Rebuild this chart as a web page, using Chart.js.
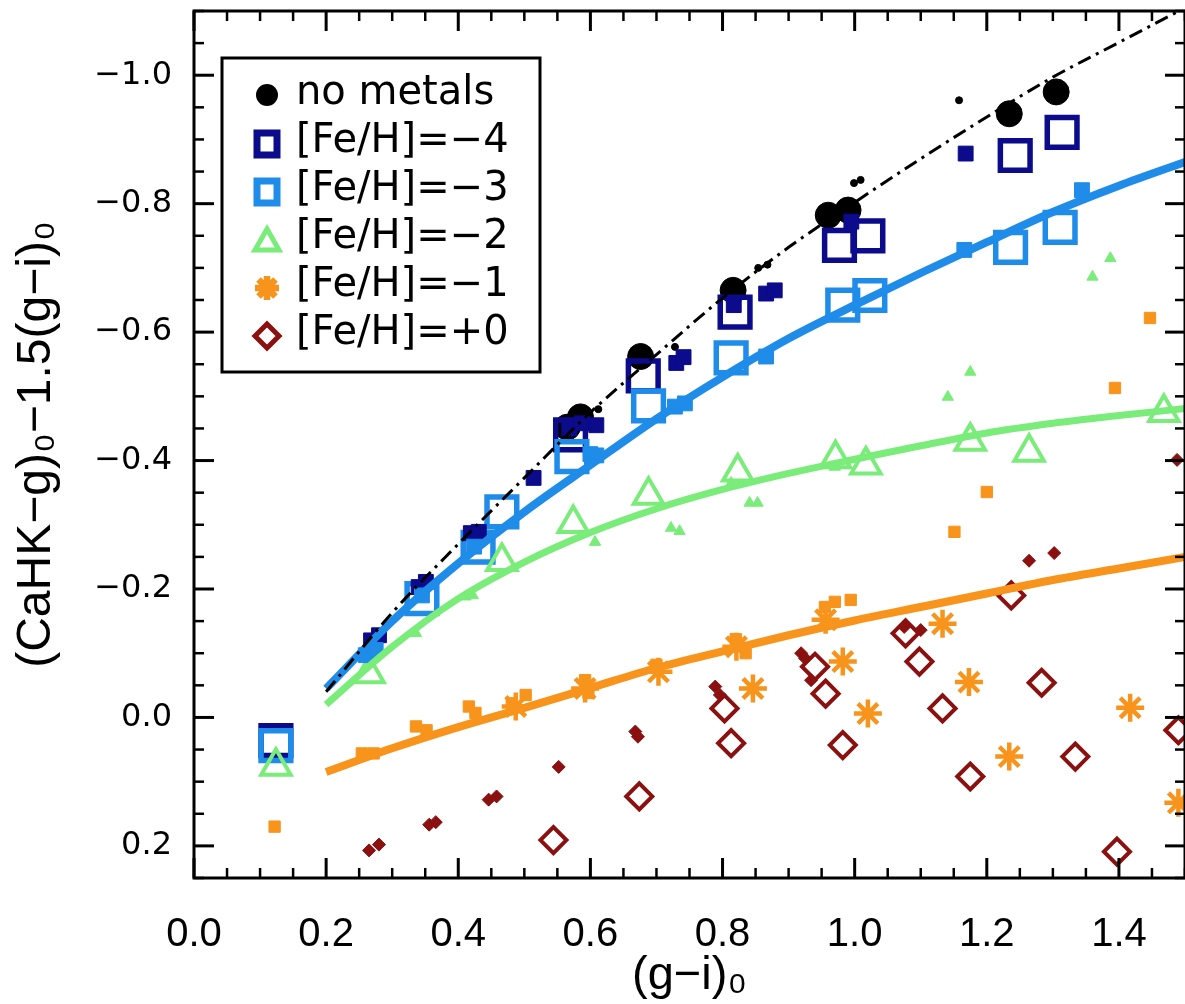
<!DOCTYPE html>
<html>
<head>
<meta charset="utf-8">
<script src="https://cdn.jsdelivr.net/npm/chart.js@4.4.1/dist/chart.umd.min.js"></script>
<style>
    html, body { margin: 0; padding: 0; background: #fff; overflow: hidden; }
    #chart { display: block; position: absolute; left: 0; top: 0; }
</style>
</head>
<body>
<canvas id="chart" width="1185" height="1004"></canvas>
<script>
(function () {
    'use strict';

    var seriesLabels = ['no metals', '[Fe/H]=\u22124', '[Fe/H]=\u22123', '[Fe/H]=\u22122', '[Fe/H]=\u22121', '[Fe/H]=+0'];
    var xTickValues = [0.0, 0.2, 0.4, 0.6, 0.8, 1.0, 1.2, 1.4];
    var yTickValues = [-1.0, -0.8, -0.6, -0.4, -0.2, 0.0, 0.2];

    // measured points, [ (g-i)0 , (CaHK-g)0 - 1.5(g-i)0 ]
    var noMetalsBig = [[0.565, -0.452], [0.585, -0.468], [0.676, -0.562], [0.816, -0.665], [0.960, -0.782], [0.990, -0.790], [1.234, -0.940], [1.305, -0.974]];
    var noMetalsSmall = [[0.612, -0.480], [0.728, -0.577], [0.854, -0.700], [0.868, -0.705], [0.999, -0.832], [1.009, -0.837], [1.158, -0.961]];

    var feh4Big = [[0.124, 0.036], [0.570, -0.440], [0.680, -0.532], [0.819, -0.631], [0.977, -0.735], [1.020, -0.750], [1.243, -0.875], [1.314, -0.911]];
    var feh4Small = [[0.268, -0.120], [0.280, -0.128], [0.340, -0.203], [0.351, -0.211], [0.419, -0.287], [0.431, -0.289], [0.514, -0.373], [0.568, -0.450], [0.587, -0.458], [0.609, -0.455], [0.730, -0.552], [0.741, -0.561], [0.817, -0.642], [0.866, -0.660], [0.879, -0.665], [0.995, -0.772], [1.168, -0.878]];

    var feh3Big = [[0.124, 0.044], [0.345, -0.185], [0.430, -0.265], [0.466, -0.320], [0.572, -0.406], [0.688, -0.485], [0.813, -0.560], [0.982, -0.642], [1.023, -0.657], [1.236, -0.732], [1.311, -0.763]];
    var feh3Small = [[0.260, -0.097], [0.275, -0.105], [0.345, -0.190], [0.424, -0.266], [0.600, -0.410], [0.609, -0.408], [0.728, -0.484], [0.743, -0.489], [0.866, -0.562], [1.166, -0.728], [1.344, -0.821]];

    var feh2Big = [[0.124, 0.076], [0.265, -0.068], [0.466, -0.243], [0.574, -0.302], [0.688, -0.346], [0.823, -0.382], [0.971, -0.403], [1.017, -0.393], [1.175, -0.430], [1.264, -0.413], [1.468, -0.475]];
    var feh2Small = [[0.336, -0.131], [0.411, -0.188], [0.422, -0.190], [0.607, -0.273], [0.722, -0.295], [0.735, -0.290], [0.813, -0.365], [0.841, -0.334], [0.853, -0.334], [0.970, -0.390], [1.141, -0.499], [1.175, -0.538], [1.360, -0.686], [1.387, -0.715]];

    var feh1Big = [[0.487, -0.017], [0.592, -0.045], [0.703, -0.071], [0.821, -0.110], [0.846, -0.045], [0.956, -0.152], [0.982, -0.087], [1.020, -0.006], [1.133, -0.146], [1.173, -0.055], [1.234, 0.061], [1.417, -0.015], [1.490, 0.133]];
    var feh1Small = [[0.122, 0.170], [0.254, 0.056], [0.272, 0.056], [0.336, 0.014], [0.352, 0.020], [0.416, -0.017], [0.426, -0.007], [0.481, -0.022], [0.502, -0.035], [0.592, -0.058], [0.597, -0.038], [0.700, -0.082], [0.820, -0.122], [0.835, -0.100], [0.955, -0.172], [0.970, -0.180], [0.994, -0.183], [1.151, -0.289], [1.200, -0.351], [1.394, -0.513], [1.447, -0.622]];

    var feh0Big = [[0.544, 0.191], [0.674, 0.123], [0.803, -0.014], [0.813, 0.040], [0.940, -0.079], [0.956, -0.037], [0.982, 0.043], [1.077, -0.131], [1.098, -0.087], [1.133, -0.014], [1.175, 0.092], [1.237, -0.190], [1.283, -0.054], [1.334, 0.061], [1.397, 0.209], [1.490, 0.020]];
    var feh0Small = [[0.265, 0.207], [0.280, 0.198], [0.356, 0.167], [0.366, 0.163], [0.446, 0.128], [0.458, 0.123], [0.552, 0.077], [0.668, 0.022], [0.672, 0.030], [0.789, -0.048], [0.796, -0.035], [0.919, -0.100], [0.925, -0.092], [0.934, -0.058], [1.075, -0.141], [1.100, -0.136], [1.264, -0.244], [1.302, -0.256], [1.488, -0.401]];

    // fitted relations, read at these colours
    var fitX = [0.2, 0.3, 0.4, 0.5, 0.6, 0.7, 0.8, 0.9, 1.0, 1.1, 1.2, 1.3, 1.4, 1.5];
    var fitNoMetals = [-0.040, -0.163, -0.270, -0.373, -0.475, -0.565, -0.653, -0.732, -0.802, -0.870, -0.935, -0.997, -1.051, -1.105];
    var fitFeh3 = [-0.045, -0.150, -0.240, -0.320, -0.393, -0.465, -0.530, -0.590, -0.642, -0.692, -0.740, -0.787, -0.828, -0.865];
    var fitFeh2 = [-0.020, -0.110, -0.185, -0.242, -0.288, -0.325, -0.355, -0.380, -0.402, -0.423, -0.443, -0.458, -0.470, -0.481];
    var fitFeh1 = [0.085, 0.048, 0.015, -0.015, -0.046, -0.077, -0.103, -0.128, -0.151, -0.172, -0.193, -0.214, -0.232, -0.250];

    var colors = ['#000000', '#0b0b8c', '#1e8ce8', '#7aec7a', '#f8941c', '#8b1010'];

    function toPoints(list) {
        return list.map(function (p) { return { x: p[0], y: p[1] }; });
    }

    function fitPoints(ys) {
        return fitX.map(function (x, i) { return { x: x, y: ys[i] }; });
    }

    function markerSet(label, list, color, style, radius, open, width, order) {
        return {
            label: label,
            data: toPoints(list),
            pointStyle: style,
            pointRadius: radius,
            pointBorderWidth: open ? width : 1,
            borderColor: color,
            backgroundColor: open ? 'rgba(0,0,0,0)' : color,
            showLine: false,
            order: order,
        };
    }

    function fitSet(label, ys, color, width, dash) {
        return {
            label: label,
            data: fitPoints(ys),
            showLine: true,
            pointRadius: 0,
            borderColor: color,
            borderWidth: width,
            borderDash: dash || [],
            borderCapStyle: 'butt',
            cubicInterpolationMode: 'monotone',
            fill: false,
            order: 0,
        };
    }

    var datasets = [
        markerSet(seriesLabels[0], noMetalsBig, colors[0], 'circle', 13, false, 0, 7),
        markerSet(seriesLabels[0], noMetalsSmall, colors[0], 'circle', 3.5, false, 0, 6),
        markerSet(seriesLabels[1], feh4Big, colors[1], 'rect', 21, true, 5.5, 6),
        markerSet(seriesLabels[1], feh4Small, colors[1], 'rect', 10.5, false, 0, 5),
        markerSet(seriesLabels[2], feh3Big, colors[2], 'rect', 21, true, 5.5, 5),
        markerSet(seriesLabels[2], feh3Small, colors[2], 'rect', 10.5, false, 0, 4),
        markerSet(seriesLabels[3], feh2Big, colors[3], 'triangle', 17, true, 4, 4),
        markerSet(seriesLabels[3], feh2Small, colors[3], 'triangle', 6.5, false, 0, 3),
        markerSet(seriesLabels[4], feh1Big, colors[4], 'star', 14, true, 4.5, 3),
        markerSet(seriesLabels[4], feh1Small, colors[4], 'rect', 8, false, 0, 2),
        markerSet(seriesLabels[5], feh0Big, colors[5], 'rectRot', 13, true, 4, 2),
        markerSet(seriesLabels[5], feh0Small, colors[5], 'rectRot', 6.5, false, 0, 1),
        fitSet('fit no metals', fitNoMetals, colors[0], 3, [14, 6, 3, 6]),
        fitSet('fit [Fe/H]=\u22123', fitFeh3, colors[2], 8),
        fitSet('fit [Fe/H]=\u22122', fitFeh2, colors[3], 7),
        fitSet('fit [Fe/H]=\u22121', fitFeh1, colors[4], 8),
    ];

    // IDL-like frame: box with inward major and minor ticks on all four sides
    var frameTicks = {
        id: 'frameTicks',
        afterDatasetsDraw: function (chart) {
            var ctx = chart.ctx;
            var a = chart.chartArea;
            var xs = chart.scales.x;
            var ys = chart.scales.y;
            ctx.save();
            ctx.strokeStyle = '#000';
            ctx.lineCap = 'butt';

            function seg(x1, y1, x2, y2) {
                ctx.beginPath();
                ctx.moveTo(x1, y1);
                ctx.lineTo(x2, y2);
                ctx.stroke();
            }

            var i, v, px, major, len;
            for (i = 0; i <= 30; i++) {
                v = i * 0.05;
                major = i % 4 === 0;
                len = major ? 20 : 10;
                ctx.lineWidth = major ? 3 : 2.5;
                px = xs.getPixelForValue(v);
                seg(px, a.bottom, px, a.bottom - len);
                seg(px, a.top, px, a.top + len);
            }
            for (i = 0; i <= 27; i++) {
                v = -1.1 + i * 0.05;
                major = (i - 2) % 4 === 0;
                len = major ? 20 : 10;
                ctx.lineWidth = major ? 3 : 2.5;
                px = ys.getPixelForValue(v);
                seg(a.left, px, a.left + len, px);
                seg(a.right, px, a.right - len, px);
            }

            ctx.lineWidth = 3;
            ctx.strokeRect(a.left, a.top, a.right - a.left, a.bottom - a.top);
            ctx.restore();
        },
    };

    function drawMarker(ctx, kind, x, y, color) {
        ctx.save();
        ctx.strokeStyle = color;
        ctx.fillStyle = color;
        ctx.beginPath();
        if (kind === 'circle') {
            ctx.arc(x, y, 11, 0, Math.PI * 2);
            ctx.fill();
        } else if (kind === 'rect') {
            ctx.lineWidth = 7;
            ctx.strokeRect(x - 10, y - 11, 20, 22);
        } else if (kind === 'triangle') {
            ctx.lineWidth = 5;
            ctx.moveTo(x, y - 11);
            ctx.lineTo(x + 12, y + 10);
            ctx.lineTo(x - 12, y + 10);
            ctx.closePath();
            ctx.stroke();
        } else if (kind === 'star') {
            ctx.lineWidth = 6.5;
            for (var k = 0; k < 4; k++) {
                var ang = k * Math.PI / 4;
                ctx.moveTo(x - Math.cos(ang) * 12, y - Math.sin(ang) * 12);
                ctx.lineTo(x + Math.cos(ang) * 12, y + Math.sin(ang) * 12);
            }
            ctx.stroke();
        } else if (kind === 'rectRot') {
            ctx.lineWidth = 5;
            ctx.moveTo(x, y - 12);
            ctx.lineTo(x + 12, y);
            ctx.lineTo(x, y + 12);
            ctx.lineTo(x - 12, y);
            ctx.closePath();
            ctx.stroke();
        }
        ctx.restore();
    }

    var legendKinds = ['circle', 'rect', 'rect', 'triangle', 'star', 'rectRot'];

    var boxLegend = {
        id: 'boxLegend',
        afterDraw: function (chart) {
            var ctx = chart.ctx;
            var left = 222, top = 58, w = 318, h = 314;
            ctx.save();
            ctx.fillStyle = '#fff';
            ctx.fillRect(left, top, w, h);
            ctx.strokeStyle = '#000';
            ctx.lineWidth = 3;
            ctx.strokeRect(left, top, w, h);
            ctx.font = '40px "DejaVu Sans", sans-serif';
            ctx.textBaseline = 'middle';
            ctx.textAlign = 'left';
            seriesLabels.forEach(function (label, i) {
                var rowY = 94 + i * 48;
                drawMarker(ctx, legendKinds[i], 267, rowY + (i === 0 ? 1 : 2), colors[i]);
                ctx.fillStyle = '#000';
                ctx.fillText(label, 296, rowY);
            });
            ctx.restore();
        },
    };

    var narrowFont = '"Liberation Sans Narrow", "Liberation Sans", sans-serif';
    var titleFont = '"Liberation Sans", Arial, sans-serif';

    // keep the plot box where the reference has it: no label overhang padding
    function noOverhang(scale) {
        scale.paddingTop = 0;
        scale.paddingBottom = 0;
        scale.paddingLeft = 0;
        scale.paddingRight = 0;
    }

    new Chart(document.getElementById('chart'), {
        type: 'scatter',
        data: { datasets: datasets },
        options: {
            responsive: false,
            animation: false,
            events: [],
            layout: { autoPadding: false, padding: { left: 0, right: -3, top: 11, bottom: 0 } },
            plugins: {
                legend: { display: false },
                tooltip: { enabled: false },
            },
            scales: {
                x: {
                    type: 'linear',
                    min: 0,
                    max: 1.5,
                    afterBuildTicks: function (scale) {
                        scale.ticks = xTickValues.map(function (v) { return { value: v }; });
                    },
                    afterFit: function (scale) {
                        scale.height = 126;
                        noOverhang(scale);
                    },
                    grid: { display: false, drawTicks: false },
                    border: { display: false },
                    ticks: {
                        autoSkip: false,
                        maxRotation: 0,
                        padding: 33,
                        color: '#000',
                        font: { family: narrowFont, size: 40 },
                        callback: function (v) { return Number(v).toFixed(1); },
                    },
                    title: {
                        display: true,
                        text: '(g\u2212i)\u2080',
                        color: '#000',
                        font: { family: titleFont, size: 47 },
                        padding: { top: 0, bottom: 0 },
                    },
                },
                y: {
                    type: 'linear',
                    reverse: true,
                    min: -1.1,
                    max: 0.25,
                    afterBuildTicks: function (scale) {
                        scale.ticks = yTickValues.map(function (v) { return { value: v }; });
                    },
                    afterFit: function (scale) {
                        scale.width = 194;
                        noOverhang(scale);
                    },
                    grid: { display: false, drawTicks: false },
                    border: { display: false },
                    ticks: {
                        padding: 22,
                        color: '#000',
                        font: { family: '"DejaVu Sans", sans-serif', size: 32 },
                        callback: function (v) {
                            if (Math.abs(v) < 1e-9) {
                                return '0.0';
                            }
                            return (v < 0 ? '\u2212' : '') + Math.abs(v).toFixed(1);
                        },
                    },
                    title: {
                        display: true,
                        text: '(CaHK\u2212g)\u2080\u22121.5(g\u2212i)\u2080',
                        color: '#000',
                        font: { family: titleFont, size: 48 },
                        padding: { top: 8, bottom: 0 },
                    },
                },
            },
        },
        plugins: [frameTicks, boxLegend],
    });
})();
</script>
</body>
</html>
